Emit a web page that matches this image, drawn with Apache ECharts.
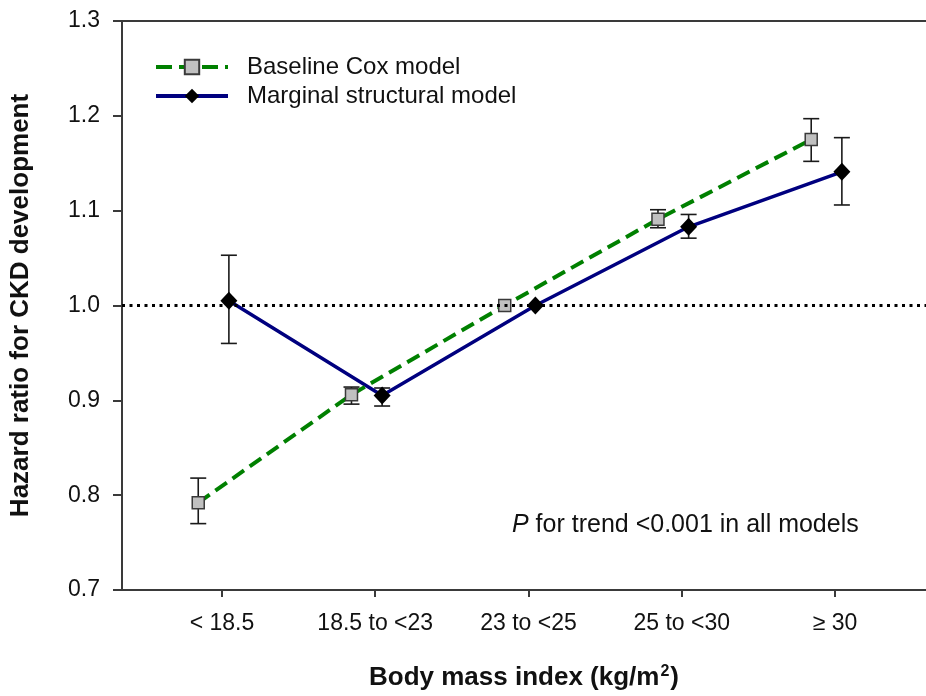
<!DOCTYPE html>
<html>
<head>
<meta charset="utf-8">
<script src="https://cdn.jsdelivr.net/npm/echarts@6/dist/echarts.min.js"></script>
<style>
  html, body { margin: 0; padding: 0; background: #ffffff; }
  #chart { width: 926px; height: 696px; }
</style>
</head>
<body>
<div id="chart"></div>
<script>
// BMI categories (x axis)
const categories = ['< 18.5', '18.5 to <23', '23 to <25', '25 to <30', '\u2265 30'];

// Baseline Cox model: hazard ratio with 95% CI (reference group has no interval)
const coxHR    = [0.792, 0.906, 1.000, 1.091, 1.175];
const coxLower = [0.770, 0.896, null,  1.082, 1.152];
const coxUpper = [0.818, 0.914, null,  1.101, 1.197];

// Marginal structural model: hazard ratio with 95% CI
const msmHR    = [1.005, 0.905, 1.000, 1.083, 1.141];
const msmLower = [0.960, 0.894, null,  1.071, 1.106];
const msmUpper = [1.053, 0.913, null,  1.096, 1.177];

// y-axis tick labels
const yTickLabels = ['0.7', '0.8', '0.9', '1.0', '1.1', '1.2', '1.3'];

const seriesNames = ['Baseline Cox model', 'Marginal structural model'];
const referenceHR = 1.0;

// horizontal dodge of the two models around each category (in category units)
const COX_SHIFT = -0.155;
const MSM_SHIFT = 0.045;

const FONT = '"Liberation Sans", Arial, sans-serif';
const AXIS_COLOR = '#3a3a3a';
const COX_GREEN = '#008000';
const MSM_NAVY = '#00007f';

function points(values, shift) {
  return values.map((v, i) => [i + shift, v]);
}
function intervals(lower, upper, shift) {
  const out = [];
  lower.forEach((lo, i) => {
    if (lo != null && upper[i] != null) out.push([i + shift, lo, upper[i]]);
  });
  return out;
}

function errorBarItem(params, api) {
  const x = api.value(0);
  const top = api.coord([x, api.value(2)]);
  const bot = api.coord([x, api.value(1)]);
  const half = 8;
  const style = { stroke: '#1a1a1a', lineWidth: 1.6, fill: null };
  return {
    type: 'group',
    children: [
      { type: 'line', shape: { x1: top[0], y1: top[1], x2: bot[0], y2: bot[1] }, style },
      { type: 'line', shape: { x1: top[0] - half, y1: top[1], x2: top[0] + half, y2: top[1] }, style },
      { type: 'line', shape: { x1: bot[0] - half, y1: bot[1], x2: bot[0] + half, y2: bot[1] }, style }
    ]
  };
}

const xMin = -0.6525, xMax = 4.594;
const tickValues = categories.map((c, i) => i);

const chart = echarts.init(document.getElementById('chart'), null, { renderer: 'canvas' });

chart.setOption({
  animation: false,
  backgroundColor: '#ffffff',
  textStyle: { fontFamily: FONT },
  grid: { left: 122, right: 0, top: 21, bottom: 106, containLabel: false },
  legend: {
    orient: 'vertical',
    left: 149,
    top: 50,
    itemWidth: 72,
    itemHeight: 18,
    itemGap: 5,
    data: [
      { name: seriesNames[0], lineStyle: { color: COX_GREEN, width: 4, type: [16, 7] } },
      { name: seriesNames[1], lineStyle: { color: MSM_NAVY, width: 4, type: 'solid' } }
    ],
    textStyle: { fontFamily: FONT, fontSize: 24, color: '#111', padding: [0, 0, 0, 14], lineHeight: 24 }
  },
  xAxis: [
    {
      type: 'value',
      min: xMin,
      max: xMax,
      position: 'bottom',
      splitLine: { show: false },
      axisLine: { show: true, onZero: false, lineStyle: { color: AXIS_COLOR, width: 2 } },
      axisTick: { show: true, inside: false, length: 7, customValues: tickValues, lineStyle: { color: AXIS_COLOR, width: 2 } },
      axisLabel: {
        customValues: tickValues,
        formatter: v => categories[Math.round(v)],
        margin: 22,
        fontFamily: FONT,
        fontSize: 23,
        color: '#111'
      },
      name: 'Body mass index (kg/m{sup|2})',
      nameLocation: 'middle',
      nameGap: 74,
      nameTextStyle: {
        fontFamily: FONT,
        fontSize: 26,
        fontWeight: 'bold',
        color: '#111',
        rich: {
          sup: { fontFamily: FONT, fontSize: 16, fontWeight: 'bold', color: '#111', verticalAlign: 'top', padding: [0, 1, 12, 1] }
        }
      }
    },
    {
      type: 'value',
      min: xMin,
      max: xMax,
      position: 'top',
      splitLine: { show: false },
      axisLine: { show: true, onZero: false, lineStyle: { color: AXIS_COLOR, width: 2 } },
      axisTick: { show: false },
      axisLabel: { show: false }
    }
  ],
  yAxis: {
    type: 'value',
    min: 0.7,
    max: 1.3,
    interval: 0.1,
    splitLine: { show: false },
    axisLine: { show: true, onZero: false, lineStyle: { color: AXIS_COLOR, width: 2 } },
    axisTick: { show: true, inside: false, length: 9, lineStyle: { color: AXIS_COLOR, width: 2 } },
    axisLabel: {
      formatter: v => yTickLabels[Math.round((v - 0.7) * 10)],
      margin: 22,
      fontFamily: FONT,
      fontSize: 23,
      color: '#111'
    },
    name: 'Hazard ratio for CKD development',
    nameLocation: 'middle',
    nameGap: 88,
    nameRotate: 90,
    nameTextStyle: { fontFamily: FONT, fontSize: 26, fontWeight: 'bold', color: '#111' }
  },
  series: [
    {
      type: 'custom',
      name: 'Cox CI',
      renderItem: errorBarItem,
      data: intervals(coxLower, coxUpper, COX_SHIFT),
      encode: { x: 0, y: [1, 2] },
      z: 2,
      silent: true
    },
    {
      type: 'custom',
      name: 'MSM CI',
      renderItem: errorBarItem,
      data: intervals(msmLower, msmUpper, MSM_SHIFT),
      encode: { x: 0, y: [1, 2] },
      z: 2,
      silent: true
    },
    {
      type: 'line',
      name: seriesNames[1],
      data: points(msmHR, MSM_SHIFT),
      symbol: 'diamond',
      symbolSize: [17, 18],
      itemStyle: { color: '#000000', borderColor: '#000000', borderWidth: 0 },
      lineStyle: { color: MSM_NAVY, width: 3.5, type: 'solid' },
      z: 3,
      markLine: {
        silent: true,
        symbol: ['none', 'none'],
        label: { show: false },
        lineStyle: { color: '#000000', width: 3, type: [3, 4.5], cap: 'butt' },
        data: [{ yAxis: referenceHR }]
      }
    },
    {
      type: 'line',
      name: seriesNames[0],
      data: points(coxHR, COX_SHIFT),
      symbol: 'rect',
      symbolSize: 12,
      itemStyle: { color: '#c0c0c0', borderColor: '#3a3a3a', borderWidth: 1.5 },
      lineStyle: { color: COX_GREEN, width: 4, type: [14, 7] },
      z: 4
    }
  ],
  graphic: [
    {
      type: 'text',
      left: 512,
      top: 513,
      style: {
        text: '{i|P} for trend <0.001 in all models',
        fontFamily: FONT,
        fontSize: 25,
        fill: '#111',
        rich: {
          i: { fontFamily: FONT, fontSize: 25, fontStyle: 'italic', fill: '#111' }
        }
      }
    }
  ]
});
</script>
</body>
</html>
